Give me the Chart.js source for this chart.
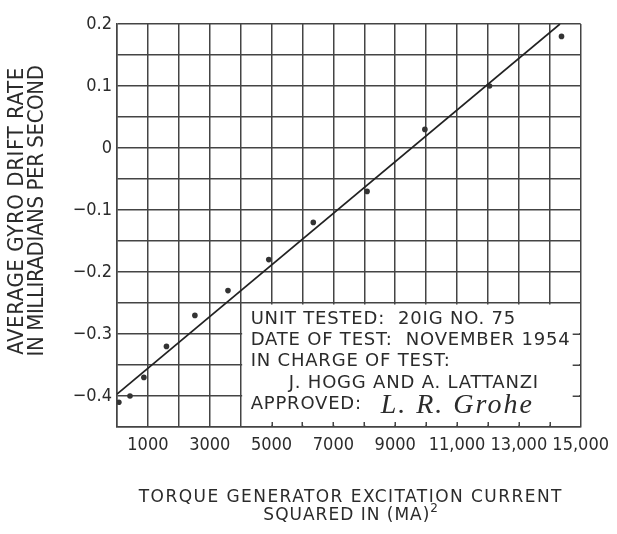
<!DOCTYPE html>
<html>
<head>
<meta charset="utf-8">
<script src="https://cdn.jsdelivr.net/npm/chart.js@4.4.1/dist/chart.umd.min.js"></script>
<style>
  html, body { margin: 0; padding: 0; background: #fff; }
  canvas { display: block; }
</style>
</head>
<body>
<canvas id="driftChart" width="617" height="534"></canvas>
<script>
// measured drift rate against torque generator current squared
const currentSq = [60, 420, 870, 1600, 2520, 3590, 4910, 6350, 8090, 9960, 12050, 14380];
const driftRate = [-0.41, -0.40, -0.37, -0.32, -0.27, -0.23, -0.18, -0.12, -0.07, 0.03, 0.10, 0.18];

// straight line fitted through the points (ends where it leaves the grid)
const fitCurrent = [0, 14330];
const fitDrift = [-0.397, 0.2];

const xTickValues = [1000, 3000, 5000, 7000, 9000, 11000, 13000, 15000];
const xTickLabels = ['1000', '3000', '5000', '7000', '9000', '11,000', '13,000', '15,000'];
const yTickValues = [-0.4, -0.3, -0.2, -0.1, 0, 0.1, 0.2];
const yTickLabels = ['\u22120.4', '\u22120.3', '\u22120.2', '\u22120.1', '0', '0.1', '0.2'];

const noteLines = [
  'UNIT TESTED:  20IG NO. 75',
  'DATE OF TEST:  NOVEMBER 1954',
  'IN CHARGE OF TEST:',
  'J. HOGG AND A. LATTANZI',
  'APPROVED:'
];
const signature = 'L. R. Grohe';

const yTitle = ['AVERAGE GYRO DRIFT RATE', 'IN MILLIRADIANS PER SECOND'];
const xTitle = ['TORQUE GENERATOR EXCITATION CURRENT', 'SQUARED IN (MA)'];

const ink = '#2b2b2b';
const gridColor = '#444';
const narrowFont = '"DejaVu Sans Condensed", "DejaVu Sans", sans-serif';
const wideFont = '"DejaVu Sans", sans-serif';

function findLabel(values, labels, v) {
  for (let i = 0; i < values.length; i++) {
    if (Math.abs(values[i] - v) < 1e-6) return labels[i];
  }
  return '';
}

// white note panel over the lower right of the grid, with small tick stubs on its edges
const notePanel = {
  id: 'notePanel',
  beforeDatasetsDraw(chart) {
    const ctx = chart.ctx;
    const x = chart.scales.x, y = chart.scales.y;
    const left = x.getPixelForValue(4000), right = x.getPixelForValue(15000);
    const top = y.getPixelForValue(-0.25), bottom = y.getPixelForValue(-0.45);
    ctx.save();
    ctx.fillStyle = '#fff';
    ctx.fillRect(left + 1.5, top + 1.5, right - left - 3, bottom - top - 3);

    ctx.strokeStyle = gridColor;
    ctx.lineWidth = 1.5;
    ctx.beginPath();
    for (let v = 5000; v < 15000; v += 1000) {
      const px = Math.round(x.getPixelForValue(v)) + 0.25;
      ctx.moveTo(px, bottom);
      ctx.lineTo(px, bottom - 5);
    }
    for (const v of [-0.3, -0.35, -0.4]) {
      const py = Math.round(y.getPixelForValue(v)) + 0.25;
      ctx.moveTo(right, py);
      ctx.lineTo(right - 8, py);
    }
    ctx.stroke();

    ctx.fillStyle = ink;
    ctx.font = '18px ' + wideFont;
    ctx.letterSpacing = '0.8px';
    ctx.textBaseline = 'middle';
    ctx.textAlign = 'left';
    noteLines.forEach((line, i) => {
      const indent = i === 3 ? 38 : 0;
      ctx.fillText(line, left + 10 + indent, top + 16 + i * 21.3);
    });
    ctx.letterSpacing = '2px';
    ctx.font = 'italic 28px "Liberation Serif", serif';
    ctx.fillText(signature, left + 140, top + 16 + 4 * 21.3 + 1);
    ctx.restore();
  },
  afterDraw(chart) {
    const ctx = chart.ctx;
    const area = chart.chartArea;
    ctx.save();
    ctx.fillStyle = ink;
    ctx.textAlign = 'center';
    ctx.textBaseline = 'middle';

    // rotated y-axis title, two lines of about the same length
    ctx.font = '22px ' + narrowFont;
    const ySpacing = ['0.6px', '-0.4px'];
    yTitle.forEach((line, i) => {
      ctx.save();
      ctx.letterSpacing = ySpacing[i];
      ctx.translate(17 + i * 20, 211);
      ctx.rotate(-Math.PI / 2);
      ctx.fillText(line, 0, 0);
      ctx.restore();
    });

    // x-axis title with a superscript on the second line
    const cx = (area.left + area.right) / 2 + 2;
    ctx.font = '17px ' + wideFont;
    ctx.letterSpacing = '1.45px';
    ctx.fillText(xTitle[0], cx, 498);
    ctx.letterSpacing = '1px';
    const w = ctx.measureText(xTitle[1]).width;
    ctx.fillText(xTitle[1], cx - 4, 516);
    ctx.font = '12px ' + wideFont;
    ctx.letterSpacing = '0px';
    ctx.textAlign = 'left';
    ctx.fillText('2', cx - 4 + w / 2, 509);
    ctx.restore();
  }
};

const ctx = document.getElementById('driftChart').getContext('2d');
const driftChart = new Chart(ctx, {
  type: 'scatter',
  data: {
    datasets: [{
      label: 'Fitted line',
      data: fitCurrent.map((c, i) => ({ x: c, y: fitDrift[i] })),
      showLine: true,
      borderColor: '#222',
      borderWidth: 1.7,
      pointRadius: 0
    }, {
      label: 'Drift rate',
      data: currentSq.map((c, i) => ({ x: c, y: driftRate[i] })),
      pointRadius: 2.8,
      pointBackgroundColor: '#333',
      pointBorderWidth: 0
    }]
  },
  options: {
    responsive: false,
    animation: false,
    layout: { padding: { top: 24, right: 35, left: 0, bottom: 0 } },
    plugins: {
      legend: { display: false },
      tooltip: { enabled: false }
    },
    scales: {
      x: {
        type: 'linear',
        min: 0,
        max: 15000,
        afterFit(scale) { scale.height = 107; },
        grid: { color: gridColor, lineWidth: 1.5, drawTicks: false },
        border: { color: gridColor, width: 1.5 },
        ticks: {
          stepSize: 1000,
          autoSkip: false,
          maxRotation: 0,
          padding: 8,
          color: ink,
          font: { family: narrowFont, size: 18 },
          callback: (v) => findLabel(xTickValues, xTickLabels, v)
        }
      },
      y: {
        type: 'linear',
        min: -0.45,
        max: 0.2,
        afterFit(scale) { scale.width = 117; },
        grid: { color: gridColor, lineWidth: 1.5, drawTicks: false },
        border: { color: gridColor, width: 1.5 },
        ticks: {
          stepSize: 0.05,
          autoSkip: false,
          padding: 5,
          color: ink,
          font: { family: narrowFont, size: 18 },
          callback: (v) => findLabel(yTickValues, yTickLabels, v)
        }
      }
    }
  },
  plugins: [notePanel]
});
</script>
</body>
</html>
